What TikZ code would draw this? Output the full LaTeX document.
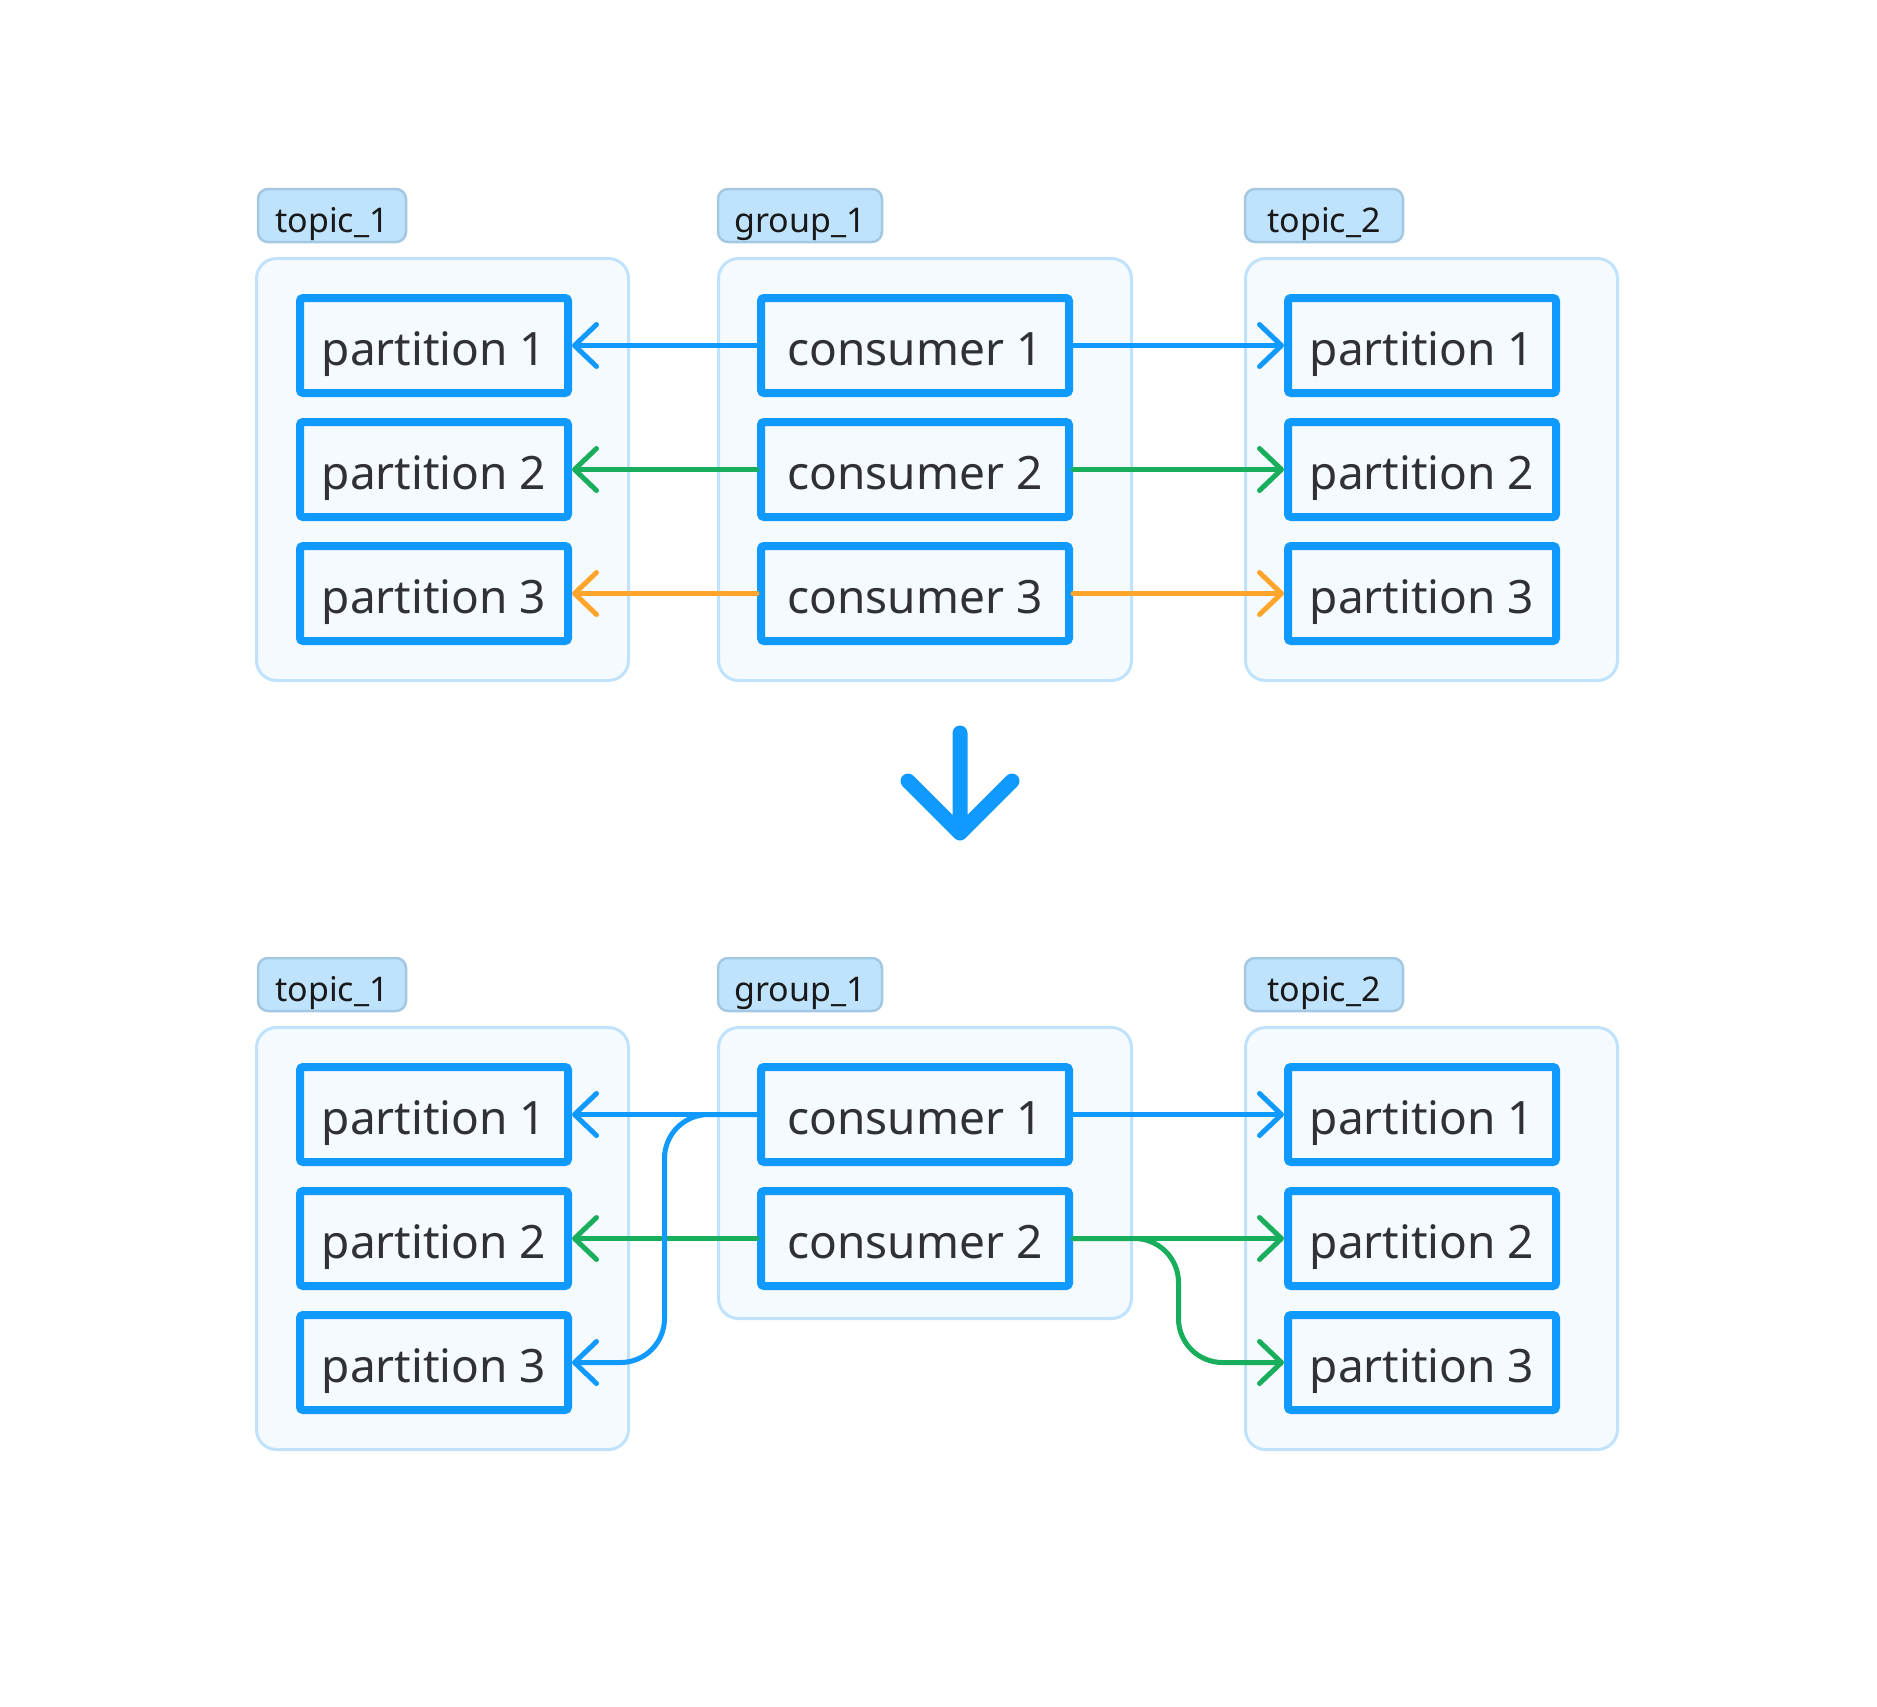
\documentclass[tikz,border=0pt]{standalone}
\usepackage{fontspec}
\setmainfont{Noto Sans}
\usetikzlibrary{arrows.meta,calc}

\definecolor{boxblue}{RGB}{16,153,254}
\definecolor{linegreen}{RGB}{24,174,92}
\definecolor{lineorange}{RGB}{255,165,43}
\definecolor{panefill}{RGB}{245,250,255}
\definecolor{paneline}{RGB}{192,226,252}
\definecolor{badgefill}{RGB}{191,227,253}
\definecolor{badgeline}{RGB}{164,199,226}
\definecolor{celltext}{RGB}{48,49,53}

\tikzset{
  pane/.style={draw=paneline,fill=panefill,line width=3pt,rounded corners=20pt,inner sep=0pt},
  badge/.style={draw=badgeline,fill=badgefill,line width=2.5pt,rounded corners=10pt,inner sep=0pt,
    minimum height=53pt,text height=33pt,text depth=0pt,font=\fontsize{34}{40}\selectfont,text=black!90},
  cell/.style={draw=boxblue,fill=panefill,line width=8pt,rounded corners=3pt,inner sep=0pt,
    minimum height=95pt,text height=39pt,text depth=0pt,font=\fontsize{46}{55}\selectfont,text=celltext},
  link/.style={draw,line width=5pt,line cap=round,-{Straight Barb[length=22pt,width=42pt,round]}}
}

\begin{document}
\begin{tikzpicture}[x=1pt,y=-1pt]

      \useasboundingbox (0,0) rectangle (1877,1706);

      \begin{scope}[every node/.style={pane,minimum width=372pt,minimum height=422pt}]
        \node (t1)  at (442.5,469.5)  {};
        \node[minimum width=413pt] (g1)  at (925,469.5)  {};
        \node (t2)  at (1431.5,469.5)  {};
        \node (t1b) at (442.5,1238.5) {};
        \node[minimum width=413pt,minimum height=291pt] (g1b) at (925,1173) {};
        \node (t2b) at (1431.5,1238.5) {};
      \end{scope}

      \begin{scope}[every node/.style={badge}]
        \node[minimum width=148pt] (n1)  at (332,215.5)  {topic\_1};
        \node[minimum width=164pt] (n2)  at (800,215.5)  {group\_1};
        \node[minimum width=158pt] (n3)  at (1324,215.5) {topic\_2};
        \node[minimum width=148pt] (n1b) at (332,984.5)  {topic\_1};
        \node[minimum width=164pt] (n2b) at (800,984.5)  {group\_1};
        \node[minimum width=158pt] (n3b) at (1324,984.5) {topic\_2};
      \end{scope}

      \begin{scope}[every node/.style={cell,minimum width=268pt}]
        \node (l1)  at (434,345.5)  {partition 1};
        \node (l2)  at (434,469.5)  {partition 2};
        \node (l3)  at (434,593.5)  {partition 3};
        \node (r1)  at (1422,345.5) {partition 1};
        \node (r2)  at (1422,469.5) {partition 2};
        \node (r3)  at (1422,593.5) {partition 3};
        \node (l1b) at (434,1114.5)  {partition 1};
        \node (l2b) at (434,1238.5)  {partition 2};
        \node (l3b) at (434,1362.5)  {partition 3};
        \node (r1b) at (1422,1114.5) {partition 1};
        \node (r2b) at (1422,1238.5) {partition 2};
        \node (r3b) at (1422,1362.5) {partition 3};
      \end{scope}

      \begin{scope}[every node/.style={cell,minimum width=308pt}]
        \node (c1)  at (915,345.5)  {consumer 1};
        \node (c2)  at (915,469.5)  {consumer 2};
        \node (c3)  at (915,593.5)  {consumer 3};
        \node (c1b) at (915,1114.5) {consumer 1};
        \node (c2b) at (915,1238.5) {consumer 2};
      \end{scope}

      \begin{scope}[every edge/.style={link,boxblue}]
        \path (c1)  edge (l1);
        \path (c1)  edge (r1);
        \path (c1b) edge (l1b);
        \path (c1b) edge (r1b);
      \end{scope}

      \begin{scope}[every edge/.style={link,linegreen}]
        \path (c2)  edge (l2);
        \path (c2)  edge (r2);
        \path (c2b) edge (l2b);
        \path (c2b) edge (r2b);
      \end{scope}

      \begin{scope}[every edge/.style={link,lineorange}]
        \path (c3)  edge (l3);
        \path (c3)  edge (r3);
      \end{scope}

      \coordinate (bendl) at ($(l1b.east)!0.5!(c1b.west)$);
      \coordinate (bendr) at ($(c2b.east)!0.5!(r2b.west)$);
      \draw[link,boxblue,rounded corners=44pt] (c1b.west) -| (bendl |- l3b.east) -- (l3b.east);
      \draw[link,linegreen,rounded corners=44pt] (c2b.east) -| (bendr |- r3b.west) -- (r3b.west);

      \coordinate (down) at (960,833);
      \draw[boxblue,line width=15pt,line cap=round,line join=round]
        (960,733) -- (down) (908,781) -- (down) -- (1012,781);

    \end{tikzpicture}
\end{document}
